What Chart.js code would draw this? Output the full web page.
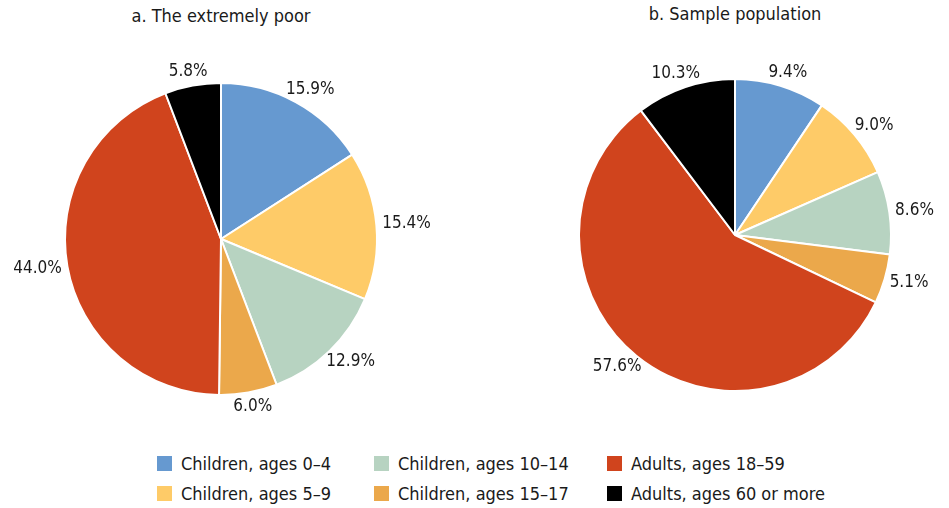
<!DOCTYPE html>
<html>
<head>
<meta charset="utf-8">
<script src="https://cdn.jsdelivr.net/npm/chart.js@4.4.0/dist/chart.umd.min.js"></script>
<style>
  body { margin: 0; background: #fff; width: 949px; height: 508px; position: relative; overflow: hidden;
         font-family: 'DejaVu Sans', sans-serif; font-stretch: condensed; color: #1a1a1a; }
  .titulo { position: absolute; top: 5px; font-size: 18px; text-align: center; }
  #wrapA { position: absolute; left: 0; top: 0; width: 442px; height: 440px; }
  #wrapB { position: absolute; left: 500px; top: 0; width: 449px; height: 440px; }
  .leyenda { position: absolute; font-size: 18px; display: flex; align-items: center; white-space: nowrap; }
  .leyenda span.caja { width: 15px; height: 15px; display: inline-block; margin-right: 9px; }
</style>
</head>
<body>
<div class="titulo" style="left:0;width:442px;">a. The extremely poor</div>
<div class="titulo" style="left:578px;width:314px;top:3px;">b. Sample population</div>
<div id="wrapA"><canvas id="graficoA" width="442" height="440"></canvas></div>
<div id="wrapB"><canvas id="graficoB" width="449" height="440"></canvas></div>
<div id="leyenda"></div>
<script>
// DATOS
const categorias = ['Children, ages 0–4', 'Children, ages 5–9', 'Children, ages 10–14',
                    'Children, ages 15–17', 'Adults, ages 18–59', 'Adults, ages 60 or more'];
const valoresPobres = [15.9, 15.4, 12.9, 6.0, 44.0, 5.8];
const valoresMuestra = [9.4, 9.0, 8.6, 5.1, 57.6, 10.3];
const colores = ['#6699d0', '#fecb68', '#b7d3c1', '#eba84b', '#d0441d', '#000000'];

// etiquetas de porcentaje fuera del pastel
const etiquetasFuera = {
  id: 'etiquetasFuera',
  afterDraw(chart) {
    const ctx = chart.ctx;
    const meta = chart.getDatasetMeta(0);
    const datos = chart.data.datasets[0].data;
    ctx.save();
    ctx.font = 'condensed 17px "DejaVu Sans"';
    if ('fontStretch' in ctx) ctx.fontStretch = 'condensed';
    ctx.fillStyle = '#1a1a1a';
    ctx.textAlign = 'center';
    ctx.textBaseline = 'middle';
    meta.data.forEach((arc, i) => {
      const p = arc.getProps(['x', 'y', 'startAngle', 'endAngle', 'outerRadius'], true);
      const ang = (p.startAngle + p.endAngle) / 2;
      const texto = datos[i].toFixed(1) + '%';
      const w = ctx.measureText(texto).width;
      const h = 16;
      const r = p.outerRadius + 6;
      const cx = p.x + Math.cos(ang) * r + Math.cos(ang) * w / 2;
      const cy = p.y + Math.sin(ang) * r + Math.sin(ang) * h / 2;
      ctx.fillText(texto, cx, cy);
    });
    ctx.restore();
  }
};

function crearPastel(id, valores, padding) {
  return new Chart(document.getElementById(id), {
    type: 'pie',
    data: {
      labels: categorias,
      datasets: [{ data: valores, backgroundColor: colores, borderColor: '#ffffff', borderWidth: 2 }]
    },
    options: {
      responsive: false,
      animation: false,
      layout: { padding: padding },
      plugins: { legend: { display: false }, tooltip: { enabled: false } }
    },
    plugins: [etiquetasFuera]
  });
}

crearPastel('graficoA', valoresPobres, { top: 82, bottom: 44, left: 64, right: 64 });
crearPastel('graficoB', valoresMuestra, { top: 78, bottom: 48, left: 78, right: 57 });

// LEYENDA
const columnasX = [157, 374, 607];
const filasY = [463, 493];
const orden = [[0, 2, 4], [1, 3, 5]];
const leyenda = document.getElementById('leyenda');
orden.forEach((fila, f) => {
  fila.forEach((idx, c) => {
    const div = document.createElement('div');
    div.className = 'leyenda';
    div.style.left = columnasX[c] + 'px';
    div.style.top = (filasY[f] - 12) + 'px';
    div.style.height = '24px';
    div.innerHTML = `<span class="caja" style="background:${colores[idx]}"></span>${categorias[idx]}`;
    leyenda.appendChild(div);
  });
});
</script>
</body>
</html>
